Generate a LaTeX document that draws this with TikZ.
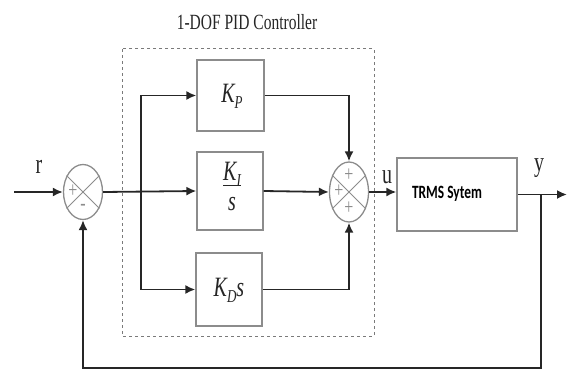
\documentclass[tikz,border=0pt]{standalone}
\usepackage{fontspec}
\setmainfont{Liberation Serif}
\newfontfamily\carlito{Carlito}
\usetikzlibrary{shapes.geometric,arrows.meta}
\definecolor{boxgray}{HTML}{8C8C8C}
\definecolor{linegray}{HTML}{262626}
\definecolor{dashgray}{HTML}{7A7A7A}
\newcommand{\vs}[1]{\scalebox{1}[1.4]{#1}}
\begin{document}
\begin{tikzpicture}[x=1pt,y=-1pt,
  blk/.style={draw=boxgray, line width=1.3pt, inner sep=0pt},
  sumnode/.style={ellipse, draw=boxgray, line width=1.3pt, minimum width=39pt, inner sep=0pt},
  sig/.style={draw=linegray, line width=1.8pt, -{Latex[length=10pt,width=9pt]}},
  lbl/.style={text=linegray, font=\fontsize{20}{20}\selectfont, inner sep=0pt},
  sgn/.style={text=boxgray, font=\fontsize{16}{16}\selectfont, inner sep=0pt},
  gain/.style={text=linegray, font=\fontsize{20}{20}\selectfont\itshape, inner sep=0pt}
  ]
\useasboundingbox (0,0) rectangle (567,369);
% controller frame
\draw[dashgray, dashed, line width=1pt] (122,49) rectangle (374,336);
\node[text=linegray, inner sep=0pt] (title) at (247,22) {\vs{\fontsize{15.5}{16}\selectfont 1-DOF PID Controller}};
% summing junctions
\node[sumnode, minimum height=55pt] (s1) at (83,192) {};
\draw[boxgray, line width=1pt] (s1.45) -- (s1.225) (s1.135) -- (s1.315);
\node[sumnode, minimum height=60pt] (s2) at (349,192) {};
\draw[boxgray, line width=1pt] (s2.45) -- (s2.225) (s2.135) -- (s2.315);
\node[sgn] (p1) at (73,191) {\vs{+}};
\node[sgn] (m1) at (83,207) {\vs{-}};
\node[sgn] (p2t) at (349,175) {\vs{+}};
\node[sgn] (p2l) at (339,191) {\vs{+}};
\node[sgn] (p2b) at (349,208) {\vs{+}};
% blocks
\node[blk, minimum width=67pt, minimum height=71pt] (kp) at (230.5,95.5) {};
\node[gain] (kpt) at (232,96) {\vs{K\raisebox{-0.45ex}{\fontsize{13}{13}\selectfont P}}};
\node[blk, minimum width=66pt, minimum height=78pt] (ki) at (230,191) {};
\node[gain] (kit) at (232,190) {\vs{\begin{tabular}{@{}c@{}}K\raisebox{-0.45ex}{\fontsize{13}{13}\selectfont I}\\[-3pt]\hline\rule{0pt}{18pt}s\end{tabular}}};
\node[blk, minimum width=66pt, minimum height=73pt] (kd) at (229,289.5) {};
\node[gain] (kdt) at (229,290) {\vs{K\raisebox{-0.45ex}{\fontsize{13}{13}\selectfont D}s}};
\node[blk, minimum width=120pt, minimum height=73pt] (trms) at (457,194.5) {};
\node[text=black, inner sep=0pt] (trmst) at (447,194) {\vs{\carlito\bfseries\fontsize{13.4}{14}\selectfont TRMS Sytem}};
% coordinates
\coordinate (rin) at (14,192);
\coordinate (br) at (141,192);
\coordinate (yout) at (567,194.5);
\coordinate (fb) at (541,194.5);
% signals
\draw[sig] (rin) -- (s1.west);
\draw[sig] (s1.east) -- (ki.west);
\draw[sig] (br) |- (kp.west);
\draw[sig] (br) |- (kd.west);
\draw[sig] (kp.east) -| (s2.north);
\draw[sig] (ki.east) -- (s2.west);
\draw[sig] (kd.east) -| (s2.south);
\draw[sig] (s2.east) -- (s2.east -| trms.west);
\draw[sig] (trms.east) -- (yout);
\draw[sig] (fb) -- ++(0,173.5) -| (s1.south);
% labels
\node[lbl] (lr) at (39,167) {\vs{r}};
\node[lbl] (lu) at (387,177) {\vs{u}};
\node[lbl] (ly) at (539,168) {\vs{y}};
\end{tikzpicture}
\end{document}
